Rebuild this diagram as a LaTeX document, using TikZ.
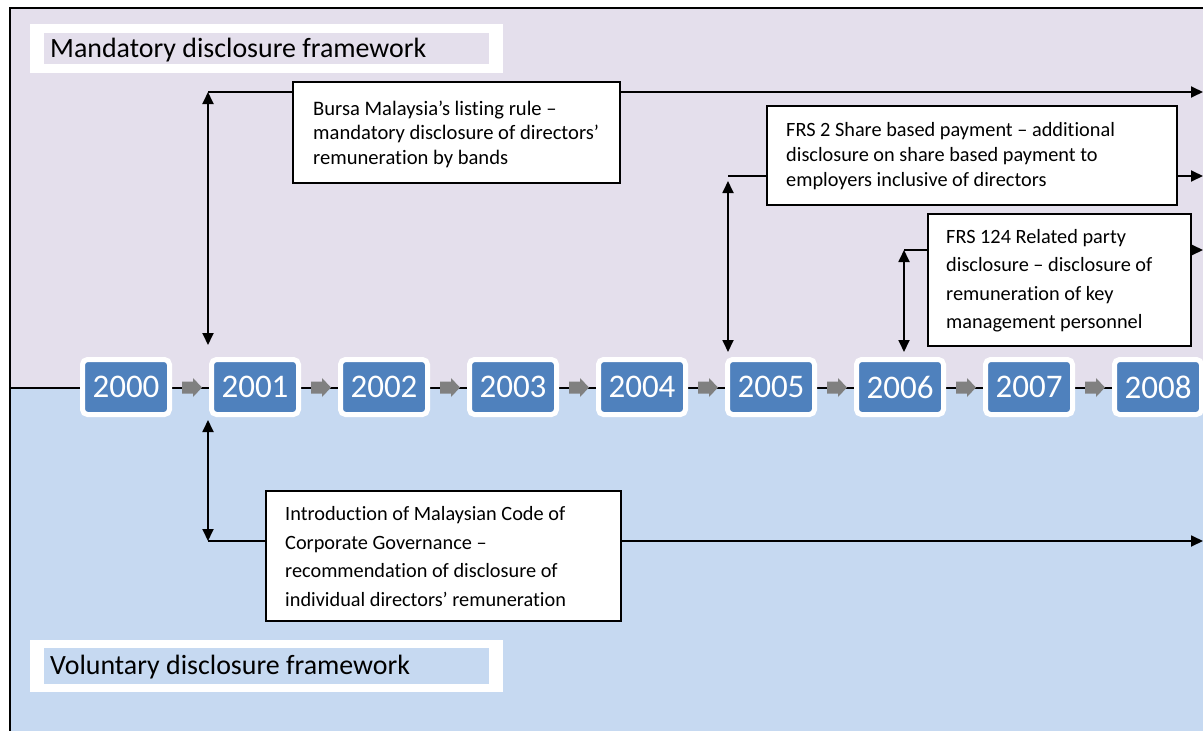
\documentclass[tikz,border=0pt]{standalone}
\usepackage{fontspec}
\setmainfont{Carlito}[Ligatures=NoCommon]
\usetikzlibrary{arrows.meta}
\definecolor{lav}{HTML}{E4DFEC}
\definecolor{blu}{HTML}{C6D9F1}
\definecolor{yblue}{HTML}{4F81BD}
\definecolor{garr}{HTML}{808080}
\tikzset{
  tip/.style={-{Triangle[length=12pt,width=11pt]}},
  dbl/.style={{Triangle[length=12pt,width=11pt]}-{Triangle[length=12pt,width=11pt]}},
  conn/.style={line width=1.8pt},
  yearbox/.style={rounded corners=5pt, fill=yblue, draw=white, line width=5pt,
    minimum width=87pt, minimum height=55pt, inner sep=0pt, text=white,
    font=\fontsize{33}{33}\selectfont},
  textbox/.style={draw=black, line width=1.5pt, fill=white, inner sep=0pt, anchor=north west},
  boxtext/.style={anchor=west, align=left, inner sep=0pt},
  labelbg/.style={fill=white, inner sep=0pt, anchor=north west},
  labelin/.style={inner sep=0pt, anchor=north west},
  labeltext/.style={anchor=west, inner sep=0pt, font=\fontsize{27.9}{28}\selectfont}
}
\begin{document}
\begin{tikzpicture}[x=1pt,y=-1pt]
\useasboundingbox (0,0) rectangle (1203,731);
\fill[lav] (10,8) rectangle (1210,388);
\fill[blu] (10,388) rectangle (1210,740);
\draw[line width=1.8pt] (10,740) -- (10,8) -- (1210,8);

% labels
\node[labelbg, minimum width=473pt, minimum height=49pt] (mandbg) at (30,24) {};
\node[labelin, fill=lav, minimum width=445pt, minimum height=31pt] (mandin) at (44,33) {};
\node[labeltext] (mand) at ([xshift=6pt,yshift=-1pt]mandin.west) {Mandatory disclosure framework};
\node[labelbg, minimum width=473pt, minimum height=52pt] (volbg) at (30,640) {};
\node[labelin, fill=blu, minimum width=445pt, minimum height=36pt] (volin) at (44,648) {};
\node[labeltext] (vol) at ([xshift=6pt,yshift=-1pt]volin.west) {Voluntary disclosure framework};

% timeline
\coordinate (tl0) at (10,388);
\coordinate (tl1) at (1203,388);
\draw[line width=1.2pt] (tl0) -- (tl1);

\foreach \yr [count=\i from 0] in {2000,2001,2002,2003,2004,2005,2006,2007,2008} {
  \node[yearbox] (y\yr) at (126+129*\i,387) {\yr};
}
\foreach \i in {0,...,7} {
  \pgfmathsetmacro{\cx}{192+129*\i}
  \fill[garr] (\cx-10,381.5) -- (\cx+1,381.5) -- (\cx+1,378) -- (\cx+10,387.5)
    -- (\cx+1,397) -- (\cx+1,393.5) -- (\cx-10,393.5) -- cycle;
}

% text boxes
\node[textbox, minimum width=327pt, minimum height=101pt] (bursa) at (292,81) {};
\node[boxtext, font=\fontsize{20.6}{24.5}\selectfont] (bursaT) at ([xshift=21pt,yshift=-2pt]bursa.west)
  {Bursa Malaysia’s listing rule –\\ mandatory disclosure of directors’\\ remuneration by bands};
\node[textbox, minimum width=410pt, minimum height=99pt] (frs2) at (766,105) {};
\node[boxtext, font=\fontsize{20.3}{25}\selectfont] (frs2T) at ([xshift=20pt,yshift=-1pt]frs2.west)
  {FRS 2 Share based payment – additional\\ disclosure on share based payment to\\ employers inclusive of directors};
\node[textbox, minimum width=263pt, minimum height=132pt] (frs124) at (927,213) {};
\node[boxtext, font=\fontsize{20.3}{28.5}\selectfont] (frs124T) at ([xshift=19pt,yshift=-1pt]frs124.west)
  {FRS 124 Related party\\ disclosure – disclosure of\\ remuneration of key\\ management personnel};
\node[textbox, minimum width=355pt, minimum height=130pt] (intro) at (265,490) {};
\node[boxtext, font=\fontsize{20.3}{28.5}\selectfont] (introT) at ([xshift=20pt,yshift=-1pt]intro.west)
  {Introduction of Malaysian Code of\\ Corporate Governance –\\ recommendation of disclosure of\\ individual directors’ remuneration};

% connectors: Bursa
\coordinate (a1t) at (208,92);
\coordinate (a1b) at (208,345);
\coordinate (a1e) at (1203,92);
\draw[conn,dbl] (a1t) -- (a1b);
\draw[conn] (a1t) -- (bursa.west |- a1t);
\draw[conn,tip] (bursa.east |- a1t) -- (a1e);

% FRS 2
\coordinate (a2t) at (728,176);
\coordinate (a2tt) at (728,181);
\coordinate (a2b) at (728,352);
\coordinate (a2e) at (1203,176);
\draw[conn,dbl] (a2tt) -- (a2b);
\draw[conn] (a2t) -- (frs2.west |- a2t);
\draw[conn,tip] (frs2.east |- a2t) -- (a2e);

% FRS 124
\coordinate (a3t) at (904,250);
\coordinate (a3b) at (904,352);
\coordinate (a3e) at (1203,250);
\draw[conn,dbl] (a3t) -- (a3b);
\draw[conn] (a3t) -- (frs124.west |- a3t);
\draw[conn,tip] (frs124.east |- a3t) -- (a3e);

% Intro
\coordinate (a4t) at (208,420);
\coordinate (a4b) at (208,541);
\coordinate (a4e) at (1203,541);
\draw[conn,dbl] (a4t) -- (a4b);
\draw[conn] (a4b) -- (intro.west |- a4b);
\draw[conn,tip] (intro.east |- a4b) -- (a4e);
\end{tikzpicture}
\end{document}
